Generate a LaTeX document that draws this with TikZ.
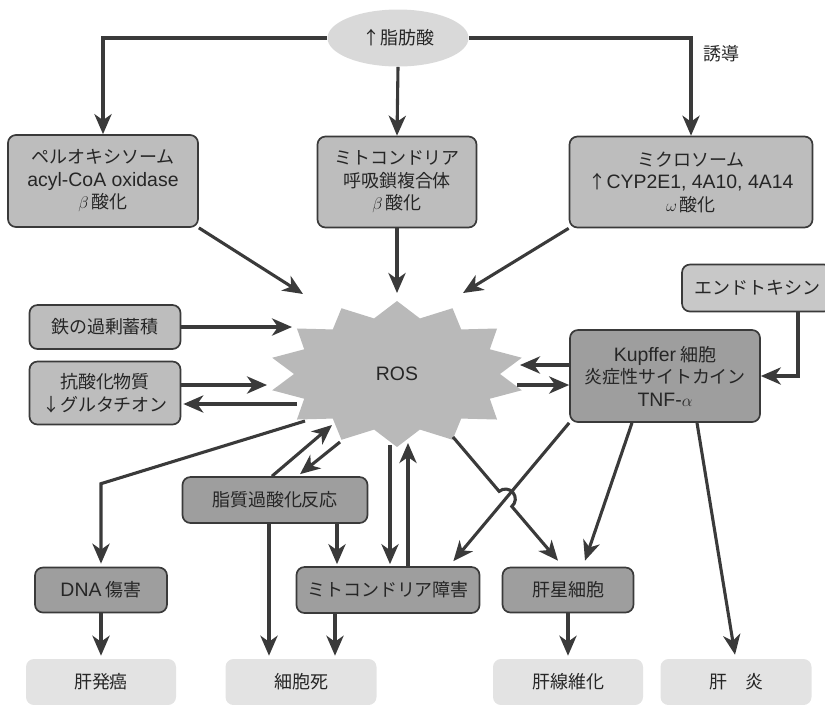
\documentclass[tikz,border=0pt]{standalone}
\usepackage{fontspec}
\setmainfont{Noto Sans CJK JP}
\newfontfamily\lat{Liberation Sans}[Scale=1.08]
\usetikzlibrary{arrows.meta,calc,shapes.geometric,intersections,positioning}
\definecolor{lnc}{HTML}{3A3A3A}
\definecolor{txc}{HTML}{262626}
\definecolor{boxg}{HTML}{BDBDBD}
\definecolor{dkg}{HTML}{9E9E9E}
\definecolor{endg}{HTML}{C8C8C8}
\definecolor{elg}{HTML}{D9D9D9}
\definecolor{rosg}{HTML}{B9B9B9}
\definecolor{outg}{HTML}{E3E3E3}
\tikzset{
  >={Stealth[length=5mm,width=4.3mm,inset=1.5mm]},
  conn/.style={->,draw=lnc,line width=2.2pt},
  rectnode/.style args={#1,#2}{
  rounded corners=2mm,
  draw=lnc,
  line width=1.2pt,
  fill=boxg,
  inner sep=0pt,
  align=center,
  minimum width=#1*0.25mm,
  minimum height=#2*0.25mm,
  },
  darknode/.style args={#1,#2}{rectnode={#1,#2},fill=dkg},
  outnode/.style args={#1,#2}{
  rounded corners=2mm,
  fill=outg,
  inner sep=0pt,
  minimum width=#1*0.25mm,
  minimum height=#2*0.25mm,
  }
}
\begin{document}
\begin{tikzpicture}[x=0.25mm,y=-0.25mm,every node/.style={font=\fontsize{12.8pt}{16pt}\selectfont,text=txc}]
  \useasboundingbox (0,0) rectangle (825,704);
  \clip (0,0) rectangle (825,704);

  \node [ellipse,fill=elg,minimum width=141*0.25mm,minimum height=57*0.25mm] (fa) at (398,38) {↑脂肪酸};
  \node [rectnode={190,92}] (perox) at (103,181) {ペルオキシソーム\\{\lat acyl-CoA oxidase}\\$\beta$\,酸化};
  \node [rectnode={159,91}] (mito) at (397,182) {ミトコンドリア\\呼吸鎖複合体\\$\beta$\,酸化};
  \node [rectnode={243,91}] (micro) at (691,182) {ミクロソーム\\↑{\lat CYP2E1,\ 4A10,\ 4A14}\\$\omega$\,酸化};

  \coordinate (rosc) at (397,374);
  \fill [rosg,shift={(rosc)}] plot [samples at={0,...,27},variable=\i]
    ({(mod(\i,2)==0 ? 128 : 103)*cos(-90+\i*180/14)},{(mod(\i,2)==0 ? 73 : 57)*sin(-90+\i*180/14)}) -- cycle;
  \node (ros) at (rosc) {\lat ROS};

  \node [rectnode={151,44}] (iron) at (105,327) {鉄の過剰蓄積};
  \node [rectnode={151,63}] (anti) at (105,393) {抗酸化物質\\↓グルタチオン};
  \node [rectnode={150,47},fill=endg] (endo) at (757,288) {エンドトキシン};
  \node [darknode={190,92}] (kup) at (665,376) {{\lat Kupffer} 細胞\\炎症性サイトカイン\\{\lat TNF-}$\alpha$};

  \node [darknode={185,46}] (lpo) at (275,500) {脂質過酸化反応};
  \node [darknode={132,45}] (dna) at (101,590) {{\lat DNA} 傷害};
  \node [darknode={183,46}] (mdmg) at (388,590) {ミトコンドリア障害};
  \node [darknode={131,45}] (hsc) at (568,590) {肝星細胞};

  \node [outnode={150,46}] (hcc) at (101,682) {肝発癌};
  \node [outnode={151,46}] (cdeath) at (301,682) {細胞死};
  \node [outnode={150,46}] (fib) at (568,682) {肝線維化};
  \node [outnode={151,46}] (hep) at (736,682) {肝　炎};

  \draw [conn] (fa.west) -| (perox.north);
  \draw [conn] (fa.south) -- (mito.north);
  \draw [conn] (fa.east) -| node [pos=0.53,anchor=north west,xshift=2.8mm,inner sep=0pt] {誘導} (micro.north);

  \draw [conn] (perox.south east) -- ([shift={(-94,-80)}]ros.center);
  \draw [conn] (mito.south) -- ([shift={(0,-81)}]ros.center);
  \draw [conn] (micro.south west) -- ([shift={(66,-81)}]ros.center);
  \draw [conn] (iron.east) -- ([shift={(-105,-47)}]ros.center);
  \draw [conn] ([shift={(0,-8)}]anti.east) -- ([shift={(-130,11)}]ros.center);
  \draw [conn] ([shift={(-100,30)}]ros.center) -- ([shift={(2,11)}]anti.east);
  \draw [conn] ([shift={(0,-11)}]kup.west) -- ([shift={(123,-9)}]ros.center);
  \draw [conn] ([shift={(120,11)}]ros.center) -- ([shift={(0,9)}]kup.west);
  \draw [conn] ([shift={(41,0)}]endo.south) |- (kup.east);

  \draw [conn] ([shift={(-92,47)}]ros.center) -- ([shift={(0,-83)}]dna.north) -- ([shift={(0,-3)}]dna.north);
  \draw [conn] ([shift={(-3,0)}]lpo.north) -- ([shift={(-65,51)}]ros.center);
  \draw [conn] ([shift={(-57,68)}]ros.center) -- ([shift={(25,-2)}]lpo.north);
  \draw [conn] ([shift={(-6,0)}]lpo.south) -- ([shift={(-32,-3)}]cdeath.north);
  \draw [conn] ([shift={(62,0)}]lpo.south) -- ([shift={(-51,-2)}]mdmg.north);
  \draw [conn] ([shift={(-7,71)}]ros.center) -- ([shift={(2,-2)}]mdmg.north);
  \draw [conn] ([shift={(20,0)}]mdmg.north) -- ([shift={(11,69)}]ros.center);
  \draw [conn] ([shift={(-53,0)}]mdmg.south) -- ([shift={(34,-3)}]cdeath.north);

  \draw [conn,name path=kd] (kup.south west) -- ([shift={(-27,-5)}]mdmg.north east);
  \coordinate (rh1) at ([shift={(56,63)}]ros.center);
  \coordinate (rh2) at ([shift={(-10,-6)}]hsc.north);
  \path [name path=rh] (rh1) -- (rh2);
  \path [name intersections={of=kd and rh,by=X}];
  \draw [conn] (rh1) -- ($(X)!7pt!(rh1)$) arc [start angle=130,end angle=-50,radius=7pt] -- (rh2);
  \draw [conn] ([shift={(-33,0)}]kup.south) -- ([shift={(17,-6)}]hsc.north);
  \draw [conn] ([shift={(32,0)}]kup.south) -- ([shift={(-1,-4)}]hep.north);

  \draw [conn] (dna.south) -- ([shift={(0,-3)}]hcc.north);
  \draw [conn] (hsc.south) -- ([shift={(0,-3)}]fib.north);
\end{tikzpicture}
\end{document}
